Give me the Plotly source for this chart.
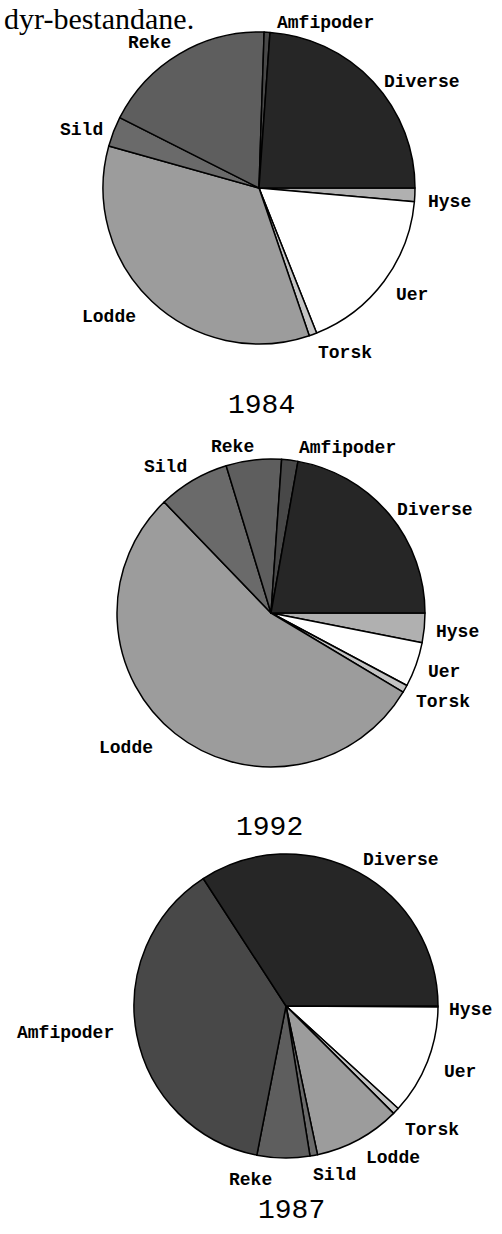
import plotly.graph_objects as go

W, H = 502, 1234

# ---- data (shares in percent) ----
# listed counter-clockwise starting at 3 o'clock
categories = ["Diverse", "Amfipoder", "Reke", "Sild", "Lodde", "Torsk", "Uer", "Hyse"]
share_1984 = [23.9, 0.6, 18.1, 3.1, 34.6, 0.8, 17.6, 1.4]
share_1992 = [22.2, 1.7, 5.8, 7.5, 54.2, 0.8, 4.7, 3.1]
share_1987 = [34.2, 37.8, 5.6, 0.8, 9.2, 0.7, 11.7, 0.1]
years = ["1984", "1992", "1987"]
heading = "dyr-bestandane."

# ---- styles ----
colors = ["#262626", "#484848", "#5e5e5e", "#6a6a6a", "#9c9c9c", "#c4c4c4", "#ffffff", "#b0b0b0"]

# pie geometry in pixels: (centre x, centre y, radius)
pie_geom = [(259, 188, 156), (271, 613, 154), (286, 1006, 152)]

# label positions in pixels (centre of text)
label_pos = [
    {"Amfipoder": (325, 23), "Reke": (149, 43), "Diverse": (422, 82), "Sild": (81, 130),
     "Hyse": (449, 202), "Uer": (412, 295), "Lodde": (109, 317), "Torsk": (345, 353)},
    {"Reke": (232, 447), "Amfipoder": (347, 448), "Sild": (165, 467), "Diverse": (435, 510),
     "Hyse": (457, 632), "Uer": (444, 672), "Torsk": (443, 702), "Lodde": (126, 748)},
    {"Diverse": (401, 860), "Hyse": (470, 1010), "Amfipoder": (65, 1033), "Uer": (460, 1072),
     "Torsk": (432, 1130), "Lodde": (393, 1158), "Sild": (334, 1175), "Reke": (250, 1180)},
]
year_pos = [(261, 405), (269, 827), (291, 1210)]


def px(x, y):
    return x / W, 1 - y / H


fig = go.Figure()
for vals, (cx, cy, r) in zip([share_1984, share_1992, share_1987], pie_geom):
    x0, y1 = px(cx - r, cy - r)
    x1, y0 = px(cx + r, cy + r)
    # drawn clockwise from 3 o'clock with the lists reversed
    fig.add_trace(go.Pie(
        labels=categories[::-1], values=vals[::-1], sort=False,
        direction="clockwise", rotation=90,
        textinfo="none", textposition="inside", hoverinfo="label+percent",
        marker=dict(colors=colors[::-1], line=dict(color="black", width=1.5)),
        domain=dict(x=[x0, x1], y=[y0, y1]),
        showlegend=False,
    ))

annotations = []
lab_font = dict(family="Liberation Mono", size=18, color="black", weight="bold")
for lp in label_pos:
    for name in categories:
        x, y = px(*lp[name])
        annotations.append(dict(text=name, x=x, y=y, xref="paper", yref="paper",
                                xanchor="center", yanchor="middle", showarrow=False,
                                font=lab_font))
for yr, pos in zip(years, year_pos):
    x, y = px(*pos)
    annotations.append(dict(text=yr, x=x, y=y, xref="paper", yref="paper",
                            xanchor="center", yanchor="middle", showarrow=False,
                            font=dict(family="Liberation Mono", size=28, color="black")))
hx, hy = px(2, 0)
annotations.append(dict(text=heading, x=hx, y=hy, xref="paper", yref="paper",
                        xanchor="left", yanchor="top", showarrow=False,
                        font=dict(family="Liberation Serif", size=30, color="black")))

fig.update_layout(
    width=W, height=H, margin=dict(l=0, r=0, t=0, b=0),
    paper_bgcolor="white", plot_bgcolor="white",
    annotations=annotations,
)
fig.write_html("out.html", config={"displayModeBar": False},
               post_script="document.body.style.margin='0px';")
